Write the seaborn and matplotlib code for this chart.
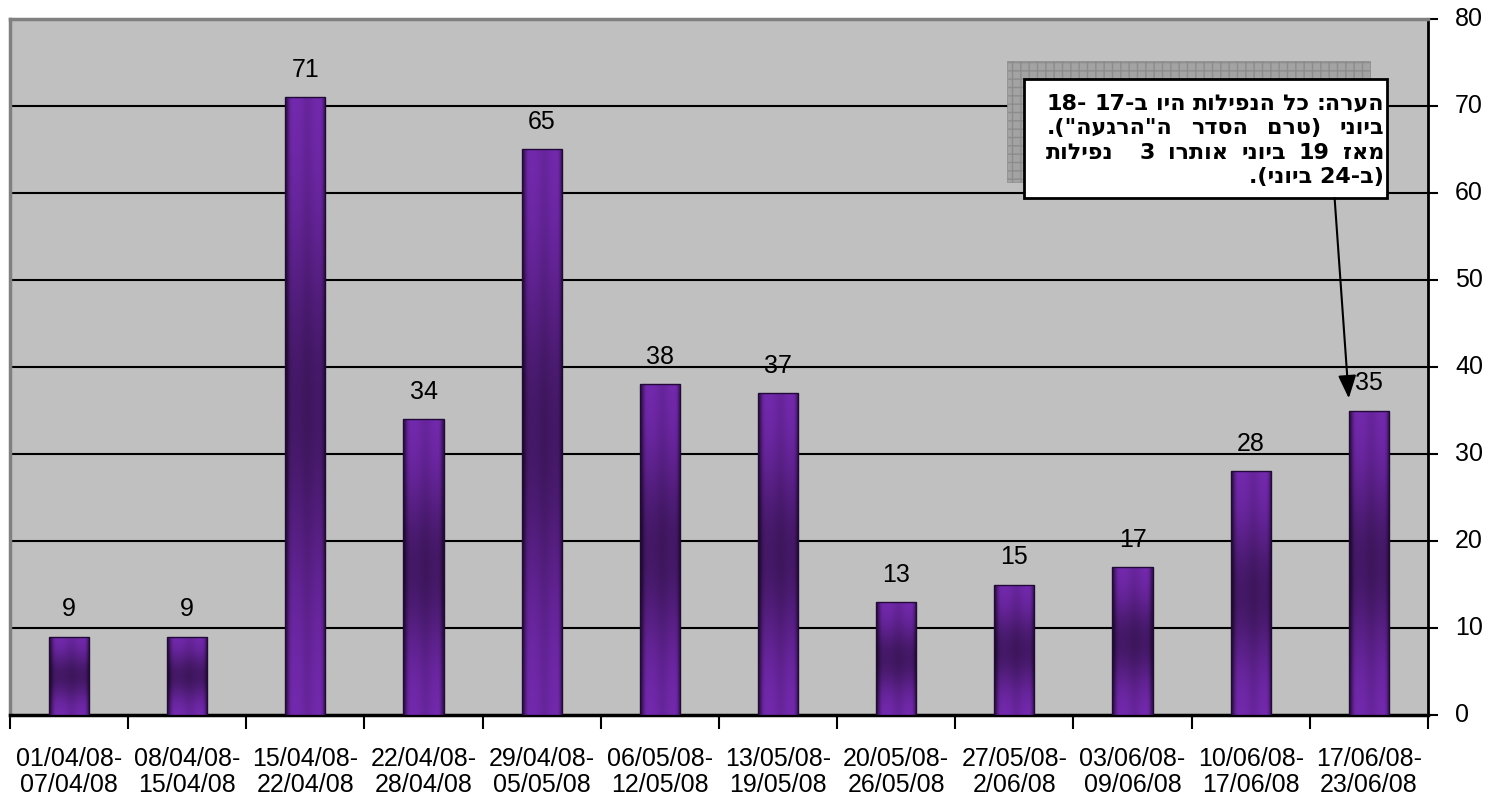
import re
import numpy as np
import pandas as pd
import matplotlib
matplotlib.use("Agg")
import matplotlib.pyplot as plt
import matplotlib.transforms as mtransforms
from matplotlib.patches import Rectangle
import seaborn as sns

# values
week_start = ["01/04/08", "08/04/08", "15/04/08", "22/04/08", "29/04/08", "06/05/08",
              "13/05/08", "20/05/08", "27/05/08", "03/06/08", "10/06/08", "17/06/08"]
week_end = ["07/04/08", "15/04/08", "22/04/08", "28/04/08", "05/05/08", "12/05/08",
            "19/05/08", "26/05/08", "2/06/08", "09/06/08", "17/06/08", "23/06/08"]
counts = [9, 9, 71, 34, 65, 38, 37, 13, 15, 17, 28, 35]
y_ticks = [0, 10, 20, 30, 40, 50, 60, 70, 80]

note_lines = [
    "הערה: כל הנפילות היו ב-17 -18",
    'ביוני (טרם הסדר ה"הרגעה").',
    "מאז 19 ביוני אותרו 3  נפילות",
    "(ב-24 ביוני).",
]


def rtl(s):
    # matplotlib has no bidi support: reverse, keep digit runs, mirror brackets
    r = s[::-1]
    r = re.sub(r"\d+", lambda m: m.group(0)[::-1], r)
    return r.translate(str.maketrans("()", ")("))


df = pd.DataFrame({
    "week": [f"{a}-\n{b}" for a, b in zip(week_start, week_end)],
    "count": counts,
})

sns.set_style("white")
plt.rcParams["font.family"] = ["Liberation Sans", "DejaVu Sans"]
plt.rcParams["text.color"] = "black"
plt.rcParams["hatch.linewidth"] = 1.0

fig = plt.figure(figsize=(14.87, 7.98), dpi=100)
ax = fig.add_axes([0.0067, 0.104, 0.9536, 0.8722])
ax.set_facecolor("#c0c0c0")

sns.barplot(data=df, x="week", y="count", color="#7028b0", width=0.34,
            edgecolor="#220a38", linewidth=1, ax=ax, zorder=4)

# shaded fill for the bars
H, W = 200, 60
t = np.linspace(0, 1, H)[:, None]
s = np.linspace(0, 1, W)[None, :]
v = 1 - 0.42 * np.exp(-((t - 0.5) / 0.3) ** 2)
hz = (1 - 0.6 * np.exp(-(s / 0.09) ** 2) - 0.5 * np.exp(-((1 - s) / 0.07) ** 2)
      - 0.1 * np.exp(-((s - 0.55) / 0.15) ** 2))
base = np.array([0x76, 0x2a, 0xb2]) / 255
grad = np.clip(base[None, None, :] * (v * hz)[:, :, None], 0, 1)

for patch in list(ax.patches):
    x0, y0 = patch.get_x(), patch.get_y()
    w, h = patch.get_width(), patch.get_height()
    im = ax.imshow(grad, extent=[x0, x0 + w, y0, y0 + h], origin="lower",
                   aspect="auto", zorder=3, interpolation="bilinear")
    im.set_clip_path(patch)
    patch.set_facecolor("none")

ax.bar_label(ax.containers[0], padding=11, fontsize=18, color="black")

ax.set_xlim(-0.5, len(counts) - 0.5)
ax.set_ylim(0, 80)
ax.set_xlabel("")
ax.set_ylabel("")

# gridlines + right-hand ticks
ax.set_axisbelow(True)
ax.set_yticks(y_ticks)
ax.yaxis.grid(True, color="black", lw=1.5)
ax.get_ygridlines()[-1].set_visible(False)
ax.get_ygridlines()[0].set_visible(False)
ax.tick_params(axis="y", which="major", direction="out", length=7, width=1.5,
               right=True, left=False, labelright=False, labelleft=False,
               color="black")
# value labels of the right axis, written next to the ticks
ylab_tr = mtransforms.offset_copy(
    mtransforms.blended_transform_factory(ax.transAxes, ax.transData),
    fig=fig, x=27, y=0, units="dots")
for yv in y_ticks:
    ax.text(1, yv, str(yv), transform=ylab_tr, ha="left", va="center",
            fontsize=18, color="black", clip_on=False)

# x ticks on category borders, labels centred
ax.set_xticks(np.arange(-0.5, len(counts), 1), labels=[""] * (len(counts) + 1))
ax.set_xticks(range(len(counts)), labels=df["week"], minor=True)
ax.tick_params(axis="x", which="major", direction="out", length=10, width=1.5,
               color="black", bottom=True)
ax.tick_params(axis="x", which="minor", length=0, pad=23, labelsize=18,
               labelcolor="black")
for lbl in ax.get_xticklabels(minor=True):
    lbl.set_linespacing(1.12)

for side in ["top", "left"]:
    ax.spines[side].set_color("#808080")
    ax.spines[side].set_linewidth(2.5)
ax.spines["right"].set_color("black")
ax.spines["right"].set_linewidth(2)
ax.spines["bottom"].set_color("black")
ax.spines["bottom"].set_linewidth(2.5)

# note box with shadow
ax.add_patch(Rectangle((7.94, 61.31), 3.07, 13.9, facecolor="#a3a3a3",
                       hatch="++", edgecolor="#8c8c8c", lw=0.5, zorder=6))
ax.add_patch(Rectangle((8.08, 59.4), 3.07, 13.7, facecolor="white",
                       edgecolor="black", lw=2, zorder=7))

# justified right-to-left note, laid out word by word
note_kw = dict(fontsize=16, fontweight="bold", family=["DejaVu Sans"],
               va="baseline", zorder=8)
note_left, note_right = 8.27, 11.13
note_base = [69.58, 66.76, 63.93, 61.11]
renderer = fig.canvas.get_renderer()
to_data = ax.transData.inverted()
for i, line in enumerate(note_lines):
    vis = rtl(line)
    yb = note_base[i]
    if i == len(note_lines) - 1:
        ax.text(note_right, yb, vis, ha="right", **note_kw)
        continue
    words = vis.split(" ")
    widths = []
    for wd in words:
        tmp = ax.text(0, yb, wd, **note_kw)
        widths.append(tmp.get_window_extent(renderer).width if wd else 0.0)
        tmp.remove()
    lpx = ax.transData.transform((note_left, yb))[0]
    rpx = ax.transData.transform((note_right, yb))[0]
    gap = (rpx - lpx - sum(widths)) / (len(words) - 1)
    xpx = lpx
    for wd, wpx in zip(words, widths):
        if wd:
            xd = to_data.transform((xpx, 0))[0]
            ax.text(xd, yb, wd, ha="left", **note_kw)
        xpx += wpx + gap

ax.annotate("", xy=(10.83, 36.4), xytext=(10.71, 59.4),
            arrowprops=dict(arrowstyle="-|>,head_length=1.4,head_width=0.55",
                            color="black", lw=1.5, shrinkA=0, shrinkB=0),
            zorder=8)

fig.savefig("out.png", dpi=100)
